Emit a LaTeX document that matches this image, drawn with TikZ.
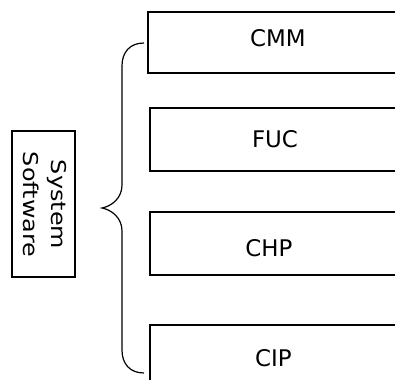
\documentclass[tikz,border=0pt]{standalone}
\usepackage{fontspec}
\setmainfont{DejaVu Sans}
\begin{document}
\begin{tikzpicture}[x=1bp,y=1bp,
  frame/.style={draw=black, line width=1.3bp},
  lbl/.style={inner sep=0pt, font=\fontsize{23}{27}\selectfont},
  sidelbl/.style={inner sep=0pt, align=center, rotate=-90, xscale=1.17,
    font=\fontsize{20.5}{28}\selectfont},
  bracepath/.style={draw=black, line width=1.2bp}]
\useasboundingbox (0,0) rectangle (395,380);
\clip (0,0) rectangle (395,380);

% module boxes running off the right edge
\draw[frame] (148,368) rectangle (410,307);
\draw[frame] (150,272) rectangle (410,209);
\draw[frame] (150,168) rectangle (410,105);
\draw[frame] (150,55)  rectangle (410,-20);

\node[lbl] (cmm) at (278,341.5) {CMM};
\node[lbl] (fuc) at (275,240.5) {FUC};
\node[lbl] (chp) at (269,131.5) {CHP};
\node[lbl] (cip) at (273.5,21.5) {CIP};

% left box with vertical caption
\draw[frame] (12,249) rectangle (75,103);
\node[sidelbl] (sys) at (44.5,175.5) {System\\Software};

% curly brace grouping the modules
\coordinate (btop) at (144,337);
\coordinate (btip) at (102,172);
\coordinate (bbot) at (144,7);
\draw[bracepath] (btop) .. controls (130,337) and (122,328) .. (122,314)
  -- (122,195) .. controls (122,182) and (112,174) .. (btip)
  .. controls (112,170) and (122,162) .. (122,149)
  -- (122,30) .. controls (122,16) and (130,7) .. (bbot);
\end{tikzpicture}
\end{document}
